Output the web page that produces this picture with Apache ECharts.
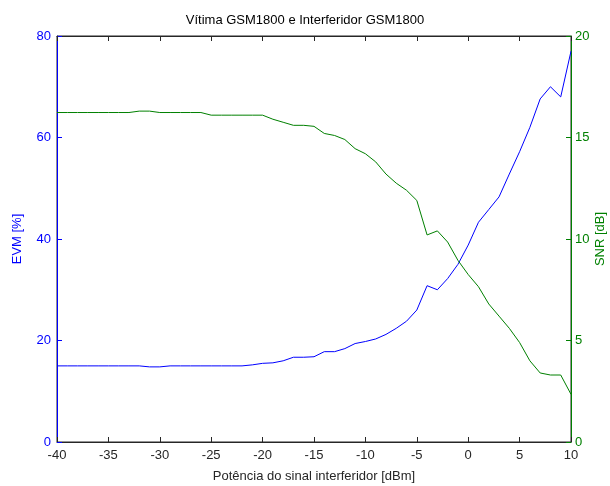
<!DOCTYPE html>
<html>
<head>
<meta charset="utf-8">
<script src="https://cdn.jsdelivr.net/npm/echarts@6/dist/echarts.min.js"></script>
<style>
  html, body { margin: 0; padding: 0; background: #fff; }
  #chart { width: 610px; height: 486px; }
</style>
</head>
<body>
<div id="chart"></div>
<script>
// potência do sinal interferidor [dBm], de -40 a 10
var potencia = [-40, -39, -38, -37, -36, -35, -34, -33, -32, -31,
                -30, -29, -28, -27, -26, -25, -24, -23, -22, -21,
                -20, -19, -18, -17, -16, -15, -14, -13, -12, -11,
                -10, -9, -8, -7, -6, -5, -4, -3, -2, -1,
                0, 1, 2, 3, 4, 5, 6, 7, 8, 9, 10];

// EVM [%]
var evm = [15.0, 15.0, 15.0, 15.0, 15.0, 15.0, 15.0, 15.0, 15.0, 14.8,
           14.8, 15.0, 15.0, 15.0, 15.0, 15.0, 15.0, 15.0, 15.0, 15.2,
           15.5, 15.6, 16.0, 16.7, 16.7, 16.8, 17.8, 17.8, 18.4, 19.4,
           19.8, 20.3, 21.2, 22.4, 23.8, 26.0, 30.8, 30.0, 32.2, 35.0,
           38.8, 43.3, 45.8, 48.3, 52.8, 57.2, 62.0, 67.6, 70.0, 68.0, 77.0];

// SNR [dB]
var snr = [16.23, 16.23, 16.23, 16.23, 16.23, 16.23, 16.23, 16.23, 16.3, 16.3,
           16.23, 16.23, 16.23, 16.23, 16.23, 16.1, 16.1, 16.1, 16.1, 16.1,
           16.1, 15.9, 15.75, 15.6, 15.6, 15.55, 15.2, 15.1, 14.9, 14.45,
           14.2, 13.8, 13.2, 12.75, 12.4, 11.9, 10.2, 10.4, 9.85, 8.95,
           8.25, 7.65, 6.8, 6.2, 5.6, 4.9, 4.0, 3.4, 3.3, 3.3, 2.35];

var azul = '#0000ff';
var verde = '#008000';
var escuro = '#262626';

function pares(xs, ys) {
    return xs.map(function (x, i) { return [x, ys[i]]; });
}

var chart = echarts.init(document.getElementById('chart'));
chart.setOption({
    animation: false,
    textStyle: { fontFamily: 'Liberation Sans, Arial, sans-serif' },
    title: {
        text: 'Vítima GSM1800 e Interferidor GSM1800',
        left: 'center',
        top: 9,
        textStyle: { fontSize: 13, fontWeight: 'normal', color: '#000' }
    },
    grid: {
        left: 57, right: 39, top: 36, bottom: 44,
        outerBoundsMode: 'none',
        show: true, borderColor: escuro, borderWidth: 1, backgroundColor: '#fff'
    },
    xAxis: [{
        type: 'value', min: -40, max: 10, interval: 5,
        name: 'Potência do sinal interferidor [dBm]',
        nameLocation: 'middle', nameGap: 28,
        nameTextStyle: { fontSize: 13, color: escuro },
        axisLine: { onZero: false, lineStyle: { color: escuro } },
        axisTick: { inside: true, length: 5, lineStyle: { color: escuro } },
        axisLabel: { fontSize: 13, color: escuro, margin: 7 },
        splitLine: { show: false }
    }, {
        type: 'value', min: -40, max: 10, interval: 5, position: 'top',
        axisLine: { onZero: false, lineStyle: { color: escuro } },
        axisTick: { inside: true, length: 5, lineStyle: { color: escuro } },
        axisLabel: { show: false },
        splitLine: { show: false }
    }],
    yAxis: [{
        type: 'value', min: 0, max: 80, interval: 20, position: 'left',
        name: 'EVM [%]', nameLocation: 'middle', nameGap: 33, nameRotate: 90,
        nameTextStyle: { fontSize: 13, color: azul },
        axisLine: { show: true, onZero: false, lineStyle: { color: azul } },
        axisTick: { show: true, inside: true, length: 5, lineStyle: { color: azul } },
        axisLabel: { fontSize: 13, color: azul, margin: 6 },
        splitLine: { show: false }
    }, {
        type: 'value', min: 0, max: 20, interval: 5, position: 'right',
        name: 'SNR [dB]', nameLocation: 'middle', nameGap: 23, nameRotate: 90,
        nameMoveOverlap: false,
        nameTextStyle: { fontSize: 13, color: verde },
        axisLine: { show: true, onZero: false, lineStyle: { color: verde } },
        axisTick: { show: true, inside: true, length: 5, lineStyle: { color: verde } },
        axisLabel: { fontSize: 13, color: verde, margin: 4 },
        splitLine: { show: false }
    }],
    series: [{
        name: 'EVM', type: 'line', xAxisIndex: 0, yAxisIndex: 0,
        data: pares(potencia, evm),
        showSymbol: false, lineStyle: { color: azul, width: 1 }, itemStyle: { color: azul }
    }, {
        name: 'SNR', type: 'line', xAxisIndex: 0, yAxisIndex: 1,
        data: pares(potencia, snr),
        showSymbol: false, lineStyle: { color: verde, width: 1 }, itemStyle: { color: verde }
    }]
});
</script>
</body>
</html>
